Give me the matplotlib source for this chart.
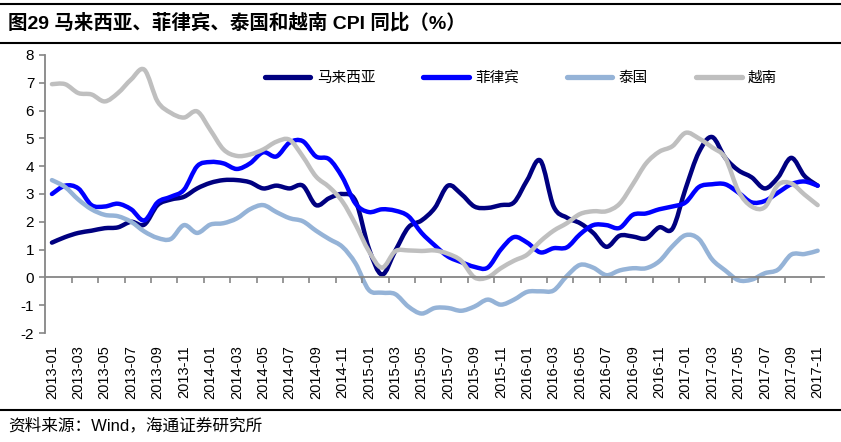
import matplotlib
matplotlib.use("Agg")
import matplotlib.pyplot as plt
from matplotlib.lines import Line2D
from matplotlib.path import Path
from matplotlib.patches import PathPatch
import numpy as np
import pandas as pd

plt.rcParams["axes.unicode_minus"] = False

# Monthly CPI YoY (%), 2013-01 .. 2017-11
months = pd.date_range("2013-01", "2017-11", freq="MS").strftime("%Y-%m").tolist()

malaysia = [1.25, 1.45, 1.6, 1.68, 1.77, 1.8, 2.0, 1.9, 2.6, 2.8, 2.9, 3.2,
            3.4, 3.5, 3.5, 3.42, 3.2, 3.3, 3.2, 3.3, 2.6, 2.85, 3.0, 2.75,
            1.05, 0.1, 0.95, 1.8, 2.05, 2.5, 3.3, 3.0, 2.55, 2.5, 2.6, 2.7,
            3.5, 4.2, 2.55, 2.15, 1.95, 1.6, 1.1, 1.5, 1.47, 1.4, 1.8, 1.75,
            3.2, 4.5, 5.05, 4.3, 3.85, 3.6, 3.2, 3.6, 4.3, 3.65, 3.3]
philippines = [3.0, 3.3, 3.2, 2.6, 2.55, 2.65, 2.45, 2.05, 2.7, 2.9, 3.15, 4.0,
               4.15, 4.1, 3.9, 4.1, 4.5, 4.35, 4.85, 4.9, 4.35, 4.25, 3.6, 2.65,
               2.35, 2.45, 2.4, 2.2, 1.6, 1.15, 0.75, 0.55, 0.38, 0.35, 1.0, 1.45,
               1.25, 0.9, 1.05, 1.08, 1.55, 1.88, 1.88, 1.78, 2.25, 2.3, 2.45, 2.55,
               2.7, 3.25, 3.35, 3.35, 3.05, 2.7, 2.75, 3.05, 3.35, 3.45, 3.3]
thailand = [3.5, 3.25, 2.8, 2.45, 2.25, 2.2, 2.0, 1.65, 1.42, 1.38, 1.88, 1.6,
            1.9, 1.95, 2.12, 2.45, 2.6, 2.35, 2.13, 2.02, 1.68, 1.38, 1.1, 0.5,
            -0.45, -0.55, -0.6, -1.05, -1.3, -1.1, -1.1, -1.2, -1.05, -0.8, -0.98, -0.8,
            -0.52, -0.5, -0.47, 0.05, 0.45, 0.35, 0.08, 0.25, 0.33, 0.33, 0.58, 1.12,
            1.52, 1.38, 0.65, 0.25, -0.1, -0.08, 0.15, 0.28, 0.82, 0.84, 0.96]
vietnam = [6.95, 6.95, 6.63, 6.58, 6.33, 6.63, 7.12, 7.47, 6.33, 5.92, 5.75, 5.97,
           5.3, 4.6, 4.37, 4.42, 4.6, 4.88, 4.95, 4.35, 3.63, 3.25, 2.73, 1.9,
           0.95, 0.35, 0.94, 0.97, 0.95, 0.97, 0.85, 0.6, 0.0, 0.0, 0.33, 0.6,
           0.82, 1.3, 1.68, 1.95, 2.28, 2.38, 2.38, 2.65, 3.35, 4.1, 4.52, 4.72,
           5.2, 5.0, 4.68, 4.3, 3.1, 2.55, 2.53, 3.33, 3.38, 2.98, 2.6]

series = [("马来西亚", malaysia, "#000080"),
          ("菲律宾", philippines, "#0000FF"),
          ("泰国", thailand, "#95B3D7"),
          ("越南", vietnam, "#BFBFBF")]

CJK = ["Liberation Sans", "Noto Sans CJK SC"]
AXIS_GRAY = "#868686"
LW = 3.2


def smooth_path(x, y):
    """Bezier path through the points (like Excel's smoothed line)."""
    pts = np.column_stack([x, y])
    n = len(pts)
    verts = [pts[0]]
    codes = [Path.MOVETO]
    for i in range(n - 1):
        p0 = pts[i - 1] if i > 0 else pts[i]
        p1, p2 = pts[i], pts[i + 1]
        p3 = pts[i + 2] if i + 2 < n else pts[i + 1]
        verts += [p1 + (p2 - p0) / 6.0, p2 - (p3 - p1) / 6.0, p2]
        codes += [Path.CURVE4] * 3
    return Path(verts, codes)


fig = plt.figure(figsize=(8.41, 4.42), dpi=100)
ax = fig.add_axes([0.0539, 0.2466, 0.9262, 0.629])

x = np.arange(len(months))
handles = []
for name, vals, color in series:
    ax.add_patch(PathPatch(smooth_path(x, np.array(vals, dtype=float)), fill=False,
                           edgecolor=color, lw=LW, capstyle="round", joinstyle="round"))
    handles.append(Line2D([], [], color=color, lw=LW + 0.6, solid_capstyle="round", label=name))

ax.set_xlim(-0.5, len(months) - 0.5)
ax.set_ylim(-2, 8)

# axes styling: y axis on the left, category axis crossing at 0
for s in ("top", "right"):
    ax.spines[s].set_visible(False)
ax.spines["left"].set_color(AXIS_GRAY)
ax.spines["left"].set_linewidth(1.3)
ax.spines["bottom"].set_position(("data", 0))
ax.spines["bottom"].set_color(AXIS_GRAY)
ax.spines["bottom"].set_linewidth(1.3)

ax.set_xticks(np.arange(1.5, len(months) - 1, 2))
ax.set_xticklabels([])
ax.tick_params(axis="x", direction="out", length=4, width=1.2, color=AXIS_GRAY)
ax.set_yticks(range(-2, 9))
ax.tick_params(axis="y", direction="out", length=4, width=1.2, color=AXIS_GRAY,
               labelsize=11, pad=4)
for lbl in ax.get_yticklabels():
    lbl.set_family("Liberation Sans")

# month labels sit at the bottom of the plot
sec = ax.secondary_xaxis("bottom")
sec.set_xticks(x[::2])
sec.set_xticklabels(months[::2], rotation=90, fontsize=10.5, family="Liberation Sans")
sec.tick_params(length=0, pad=9)
sec.spines["bottom"].set_visible(False)

ax.legend(handles=handles, loc="center left", bbox_to_anchor=(0.282, 0.917),
          ncol=4, frameon=False, borderpad=0, borderaxespad=0,
          handlelength=3.1, handletextpad=0.45, columnspacing=3.3,
          prop={"family": CJK, "size": 10.5})

# title, rules and source
for yy in (0.991, 0.9027, 0.0724):
    fig.add_artist(Line2D([0, 1], [yy, yy], color="black", lw=1.5))
fig.text(0.0095, 0.948, "图29 马来西亚、菲律宾、泰国和越南 CPI 同比（%）",
         family=CJK, fontsize=14, fontweight="bold", va="center", ha="left")
fig.text(0.0095, 0.0385, "资料来源：Wind，海通证券研究所",
         family=CJK, fontsize=12, va="center", ha="left")

fig.savefig("out.png", dpi=100)
